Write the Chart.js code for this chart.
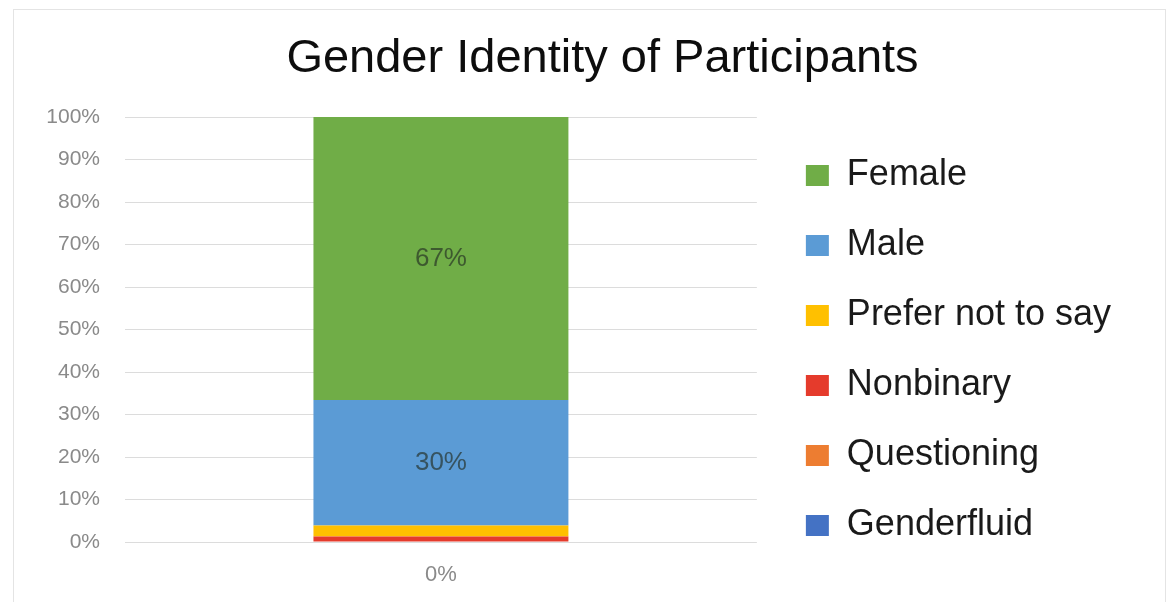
<!DOCTYPE html>
<html>
<head>
<meta charset="utf-8">
<script src="https://cdn.jsdelivr.net/npm/chart.js@4/dist/chart.umd.min.js"></script>
<style>
  html, body { margin: 0; padding: 0; background: #ffffff; overflow: hidden; }
  #frame { position: absolute; left: 13px; top: 9px; width: 1151px; height: 592px; border: 1px solid #e4e4e4; background: #fff; }
  canvas { display: block; }
</style>
</head>
<body>
<div id="frame"><canvas id="c" width="1151" height="592"></canvas></div>
<script>
// ---- data ----
const categories = ['0%'];
const seriesNames = ['Genderfluid', 'Questioning', 'Nonbinary', 'Prefer not to say', 'Male', 'Female'];
const genderfluid = [0];
const questioning = [0];
const nonbinary = [1.3];
const preferNotToSay = [2.6];
const male = [29.5];
const female = [66.6];
const yTickValues = [0, 10, 20, 30, 40, 50, 60, 70, 80, 90, 100];
const seriesColors = ['#4472C4', '#ED7D31', '#E53B2C', '#FFC000', '#5B9BD5', '#70AD47'];

const seriesValues = [genderfluid, questioning, nonbinary, preferNotToSay, male, female];
const FONT = "'Liberation Sans', Arial, Helvetica, sans-serif";

const barLabels = {
  id: 'barLabels',
  afterDatasetsDraw(chart) {
    const ctx = chart.ctx;
    ctx.save();
    ctx.font = '26px ' + FONT;
    ctx.fillStyle = 'rgba(35,45,35,0.66)';
    ctx.textAlign = 'center';
    ctx.textBaseline = 'middle';
    chart.data.datasets.forEach((ds, i) => {
      const meta = chart.getDatasetMeta(i);
      meta.data.forEach((bar, j) => {
        const v = ds.data[j];
        if (v >= 5) {
          const p = bar.getCenterPoint();
          ctx.fillText(Math.round(v) + '%', p.x, p.y);
        }
      });
    });
    ctx.restore();
  }
};

// centre the title over the whole frame (as in the reference), not only left of the legend
const titleCentre = {
  id: 'titleCentre',
  afterLayout(chart) {
    if (chart.titleBlock) chart.titleBlock.left += 70;
  }
};

new Chart(document.getElementById('c'), {
  type: 'bar',
  data: {
    labels: categories,
    datasets: seriesNames.map((name, i) => ({
      label: name,
      data: seriesValues[i],
      backgroundColor: seriesColors[i],
      borderWidth: 0,
      barPercentage: 0.4035,
      categoryPercentage: 1.0
    }))
  },
  plugins: [barLabels, titleCentre],
  options: {
    responsive: false,
    animation: false,
    layout: { padding: { left: 0, right: 44, top: 0, bottom: 13.6 } },
    plugins: {
      title: {
        display: true,
        text: 'Gender Identity of Participants',
        color: '#0d0d0d',
        font: { family: FONT, size: 47, weight: 'normal', lineHeight: 1.15 },
        padding: { top: 22, bottom: 31 }
      },
      legend: {
        position: 'right',
        align: 'start',
        reverse: true,
        maxWidth: 420,
        title: { display: true, text: '', font: { size: 12 }, padding: { top: 99, bottom: 0 } },
        labels: {
          color: '#1a1a1a',
          font: { family: FONT, size: 36 },
          boxWidth: 23,
          boxHeight: 21,
          padding: 34
        }
      },
      tooltip: { enabled: false }
    },
    scales: {
      x: {
        stacked: true,
        grid: { display: false, drawTicks: false },
        border: { display: false },
        ticks: { color: '#8a8a8a', font: { family: FONT, size: 22, lineHeight: 1.2 }, padding: 20 },
        afterFit(s) { s.height = 46.4; }
      },
      y: {
        stacked: true,
        min: 0,
        max: 100,
        afterBuildTicks(s) { s.ticks = yTickValues.map(v => ({ value: v })); },
        grid: { color: '#dcdcdc', lineWidth: 1, drawTicks: false },
        border: { display: false },
        ticks: {
          color: '#8a8a8a',
          font: { family: FONT, size: 21 },
          padding: 25,
          callback: v => v + '%'
        },
        afterFit(s) { s.width = 111; }
      },
      y2: {
        position: 'right',
        display: true,
        grid: { display: false, drawTicks: false },
        border: { display: false },
        ticks: { display: false },
        afterFit(s) { s.width = 15; }
      }
    }
  }
});
</script>
</body>
</html>
